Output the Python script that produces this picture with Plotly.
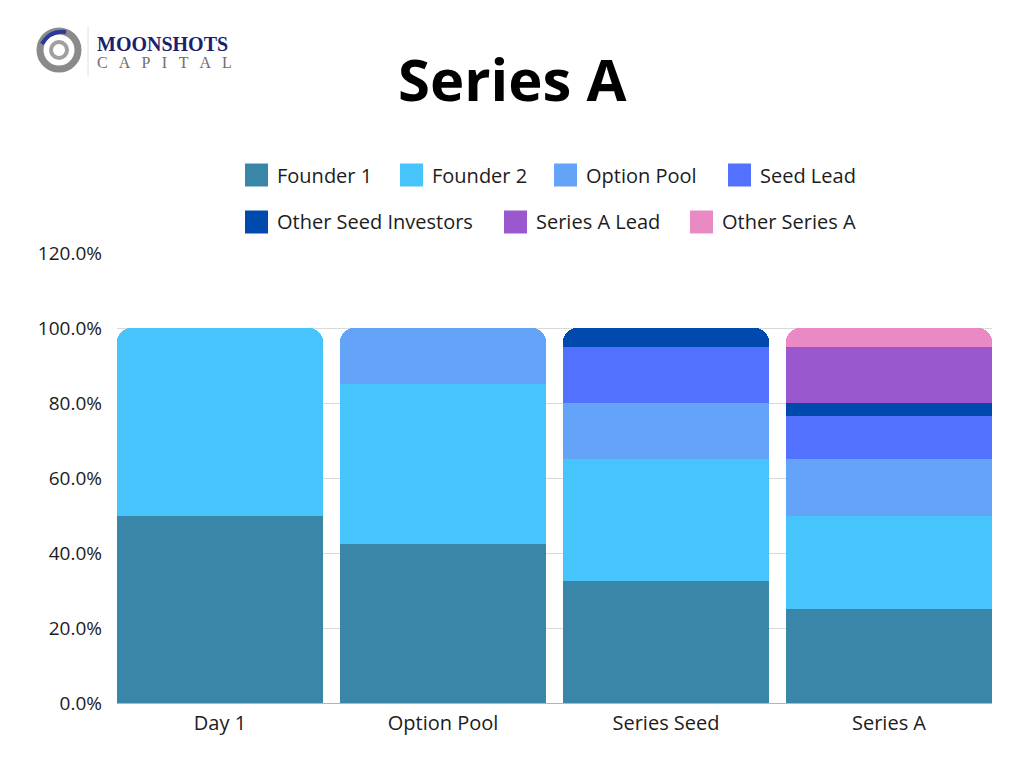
import plotly.graph_objects as go

# cap table by round, % ownership
rounds = ["Day 1", "Option Pool", "Series Seed", "Series A"]

founder_1 = [50.0, 42.5, 32.5, 25.0]
founder_2 = [50.0, 42.5, 32.5, 25.0]
option_pool = [0.0, 15.0, 15.0, 15.0]
seed_lead = [0.0, 0.0, 15.0, 11.5]
other_seed = [0.0, 0.0, 5.0, 3.5]
series_a_lead = [0.0, 0.0, 0.0, 15.0]
other_series_a = [0.0, 0.0, 0.0, 5.0]

series_names = ["Founder 1", "Founder 2", "Option Pool", "Seed Lead",
                "Other Seed Investors", "Series A Lead", "Other Series A"]
series_values = [founder_1, founder_2, option_pool, seed_lead,
                 other_seed, series_a_lead, other_series_a]
colors = ["#3a86a8", "#48c4fc", "#64a4f8", "#5271ff",
          "#004aad", "#9b57cd", "#ea8ac4"]

y_ticks = [0, 20, 40, 60, 80, 100, 120]
y_tick_labels = ["0.0%", "20.0%", "40.0%", "60.0%", "80.0%", "100.0%", "120.0%"]

FONT = "Open Sans"
TXT = "#1c1c1c"

# the page puts the figure 8px in from the top-left corner
OFF = 8
W, H = 1024, 768
L = 117 - OFF
R = W - (992 - OFF)
T = 253 - OFF
B = H - (703 - OFF)


def px_x(px):
    return (px - OFF - L) / (W - L - R)


def px_y(py):
    return (H - B - (py - OFF)) / (H - T - B)


fig = go.Figure()
for name, vals, col in zip(series_names, series_values, colors):
    fig.add_trace(go.Bar(
        x=rounds, y=vals, name=name,
        marker=dict(color=col, line=dict(width=0)),
        showlegend=False,
        hovertemplate="%{x}<br>" + name + ": %{y:.1f}%<extra></extra>",
    ))

# legend drawn by hand so the swatches are big squares like the original
legend_pos = [(245, 175), (400, 175), (554, 175), (728, 175),
              (245, 222), (504, 222), (690, 222)]
shapes = []
annotations = []
for (lx, ly), name, col in zip(legend_pos, series_names, colors):
    shapes.append(dict(type="rect", xref="paper", yref="paper",
                       x0=px_x(lx), x1=px_x(lx + 23),
                       y0=px_y(ly + 11.5), y1=px_y(ly - 11.5),
                       fillcolor=col, line=dict(width=0), layer="above"))
    annotations.append(dict(text=name, xref="paper", yref="paper",
                            x=px_x(lx + 30), y=px_y(ly), xanchor="left",
                            yanchor="middle", showarrow=False,
                            font=dict(family=FONT, size=20, color=TXT)))

# logo: icon, divider, wordmark
shapes.append(dict(type="circle", xref="paper", yref="paper",
                   x0=px_x(40), x1=px_x(78), y0=px_y(69), y1=px_y(31),
                   line=dict(color="#8a8a8a", width=7)))
shapes.append(dict(type="circle", xref="paper", yref="paper",
                   x0=px_x(51), x1=px_x(67), y0=px_y(58), y1=px_y(42),
                   line=dict(color="#a0a0a0", width=4)))
shapes.append(dict(type="path", xref="paper", yref="paper",
                   path=f"M {px_x(42)} {px_y(44)} Q {px_x(50)} {px_y(30)} {px_x(66)} {px_y(32)}",
                   line=dict(color="#2b3a9a", width=4)))
shapes.append(dict(type="line", xref="paper", yref="paper",
                   x0=px_x(88), x1=px_x(88), y0=px_y(26), y1=px_y(76),
                   line=dict(color="#e0e0e0", width=1)))
annotations.append(dict(
    text=("<span style='font-size:20px;color:#1b1f6e'><b>MOONSHOTS</b></span><br>"
          "<span style='font-size:16px;color:#6e6e6e'>C   A   P   I   T   A   L</span>"),
    xref="paper", yref="paper", x=px_x(95), y=px_y(52), xanchor="left",
    yanchor="middle", align="left", showarrow=False,
    font=dict(family="Liberation Serif", size=13, color="#6e6e6e")))

# title
annotations.append(dict(text="<b>Series A</b>", xref="paper", yref="paper",
                        x=px_x(512), y=px_y(78), xanchor="center", yanchor="middle",
                        showarrow=False,
                        font=dict(family=FONT, size=58, color="#000000")))

gap = 0.0762
fig.update_layout(
    width=W, height=H,
    margin=dict(l=L, r=R, t=T, b=B),
    barmode="stack",
    bargap=gap,
    barcornerradius=14,
    plot_bgcolor="white",
    paper_bgcolor="white",
    font=dict(family=FONT, size=18, color=TXT),
    shapes=shapes,
    annotations=annotations,
    xaxis=dict(range=[-0.5 + gap / 2, 3.5 - gap / 2], showgrid=False,
               showline=True, linecolor="#b5b5b5", linewidth=1,
               ticks="", tickfont=dict(size=20, color=TXT),
               ticklabelstandoff=2),
    yaxis=dict(range=[0, 120], tickvals=y_ticks, ticktext=y_tick_labels,
               showgrid=True, gridcolor="#d9d9d9",
               gridwidth=1, zeroline=False, ticks="",
               tickfont=dict(size=19, color=TXT), ticklabelstandoff=14),
)

fig.write_html("out.html")
